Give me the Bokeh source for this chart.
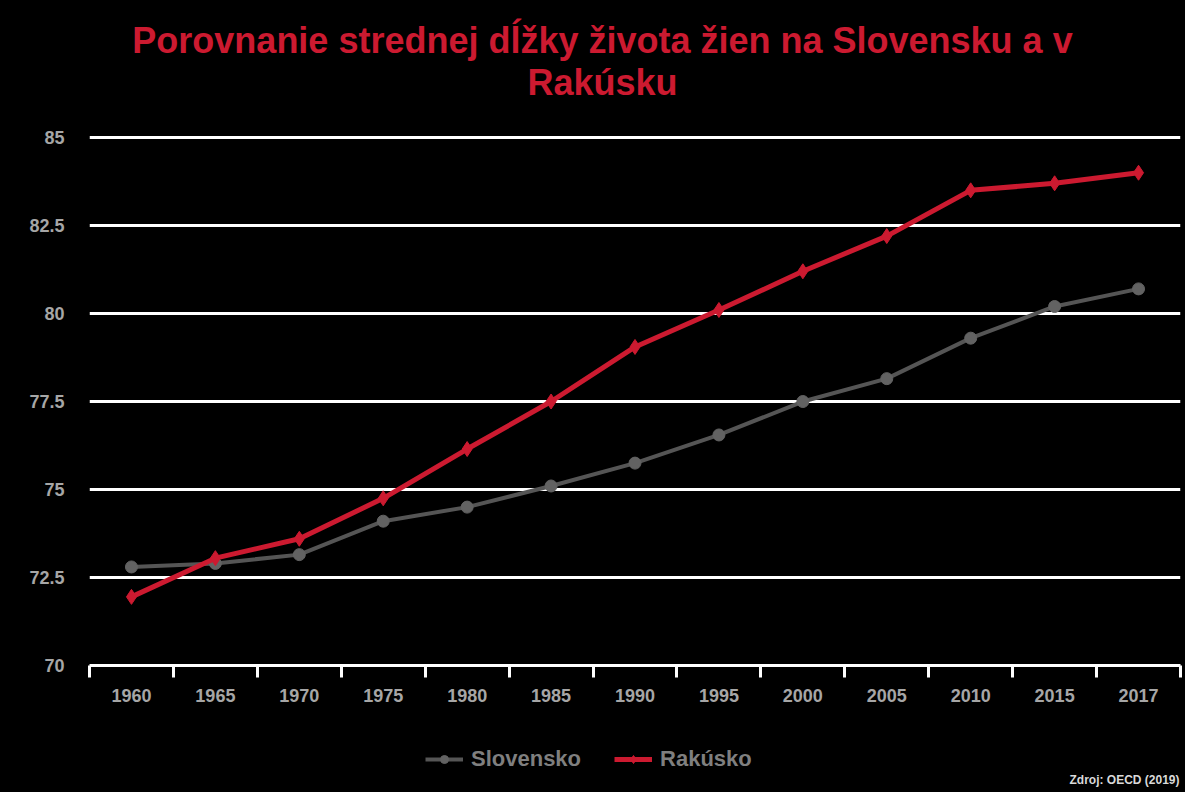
from bokeh.plotting import figure
from bokeh.models import (ColumnDataSource, FixedTicker, Legend, LegendItem, Range1d)
from bokeh.layouts import column
from bokeh.core.properties import value
from bokeh.embed import file_html
from bokeh.resources import INLINE

years = ["1960", "1965", "1970", "1975", "1980", "1985", "1990", "1995",
         "2000", "2005", "2010", "2015", "2017"]
slovensko = [72.8, 72.9, 73.15, 74.1, 74.5, 75.1, 75.75, 76.55, 77.5, 78.15, 79.3, 80.2, 80.7]
rakusko = [71.95, 73.05, 73.6, 74.75, 76.15, 77.5, 79.05, 80.1, 81.2, 82.2, 83.5, 83.7, 84.0]
y_ticks = [70, 72.5, 75, 77.5, 80, 82.5, 85]
y_labels = ["70", "72.5", "75", "77.5", "80", "82.5", "85"]
series_names = ["Slovensko", "Rakúsko"]

title_line1 = "Porovnanie strednej dĺžky života žien na Slovensku a v"
title_line2 = "Rakúsku"
source_note = "Zdroj: OECD (2019)"

FONT = "Liberation Sans"
GRAY = "#a6a6a6"
RED = "#cc1a30"
DARK = "#555555"
MARK = "#626262"
W = 1185
LEFT = 89
RIGHT = 5
BLACK = {"background-color": "black"}


def blank(height, xr, yr):
    f = figure(width=W, height=height, output_backend="svg", toolbar_location=None,
               x_range=xr, y_range=yr, x_axis_location=None, y_axis_location=None,
               min_border_left=LEFT, min_border_right=RIGHT, min_border_top=0,
               min_border_bottom=0, background_fill_color="black",
               border_fill_color="black", styles=BLACK)
    f.outline_line_color = None
    f.xgrid.visible = False
    f.ygrid.visible = False
    return f


# ---- header with the two-line title (pixel-like coordinates) ----
head = blank(128, Range1d(LEFT, W - RIGHT), Range1d(128, 0))
head.text(x=[602, 602], y=[40, 82], text=[title_line1, title_line2],
          text_align="center", text_baseline="middle", text_color=RED,
          text_font=value(FONT), text_font_size=value("36px"), text_font_style="bold")

# ---- main chart ----
xpos = [i + 0.5 for i in range(len(years))]
src = ColumnDataSource(dict(x=xpos, sk=slovensko, at=rakusko))

p = figure(width=W, height=584, output_backend="svg", toolbar_location=None,
           x_range=Range1d(0, len(years)), y_range=Range1d(70, 85.2),
           min_border_left=LEFT, min_border_right=RIGHT, min_border_top=2, min_border_bottom=47,
           background_fill_color="black", border_fill_color="black", styles=BLACK)
p.outline_line_color = None

p.xgrid.visible = False
p.ygrid.ticker = FixedTicker(ticks=y_ticks)
p.ygrid.grid_line_color = "white"
p.ygrid.grid_line_width = 3

p.yaxis.ticker = FixedTicker(ticks=y_ticks)
p.yaxis.major_label_overrides = {t: l for t, l in zip(y_ticks, y_labels)}
p.yaxis.axis_line_color = None
p.yaxis.major_tick_line_color = None
p.yaxis.minor_tick_line_color = None
p.yaxis.major_label_text_color = GRAY
p.yaxis.major_label_text_font = FONT
p.yaxis.major_label_text_font_size = "18px"
p.yaxis.major_label_text_font_style = "bold"
p.yaxis.major_label_standoff = 19

p.xaxis.ticker = FixedTicker(ticks=xpos, minor_ticks=list(range(len(years) + 1)))
p.xaxis.major_label_overrides = {x: y for x, y in zip(xpos, years)}
p.xaxis.axis_line_color = "white"
p.xaxis.axis_line_width = 3
p.xaxis.major_tick_line_color = None
p.xaxis.major_tick_out = 0
p.xaxis.major_tick_in = 0
p.xaxis.minor_tick_line_color = "white"
p.xaxis.minor_tick_line_width = 3
p.xaxis.minor_tick_out = 12
p.xaxis.minor_tick_in = 0
p.xaxis.major_label_text_color = GRAY
p.xaxis.major_label_text_font = FONT
p.xaxis.major_label_text_font_size = "18px"
p.xaxis.major_label_text_font_style = "bold"
p.xaxis.major_label_standoff = 11

p.line("x", "sk", source=src, line_color=DARK, line_width=4)
p.scatter("x", "sk", source=src, marker="circle", size=12, fill_color=MARK, line_color=MARK)
p.line("x", "at", source=src, line_color=RED, line_width=5)
p.scatter("x", "at", source=src, marker="diamond", size=15, fill_color=RED, line_color=RED)

# ---- footer: legend and source note ----
# x range shifted so that the legend's proxy renderers (same data) stay out of view
OFF = 1300
foot = blank(80, Range1d(LEFT - OFF, W - RIGHT - OFF), Range1d(80, 0))
fl1 = foot.line("x", "sk", source=src, line_color=DARK, line_width=4)
fm1 = foot.scatter("x", "sk", source=src, marker="circle", size=12, fill_color=MARK, line_color=MARK)
fl2 = foot.line("x", "at", source=src, line_color=RED, line_width=5)
fm2 = foot.scatter("x", "at", source=src, marker="diamond", size=15, fill_color=RED, line_color=RED)

legend = Legend(items=[LegendItem(label=series_names[0], renderers=[fl1, fm1]),
                       LegendItem(label=series_names[1], renderers=[fl2, fm2])],
                orientation="horizontal", location=(336, 20),
                background_fill_alpha=0, border_line_color=None,
                label_text_color="#7f7f7f", label_text_font=FONT,
                label_text_font_size="22px", label_text_font_style="bold",
                glyph_width=38, glyph_height=20, label_height=25, label_standoff=8,
                spacing=33, margin=0, padding=2)
foot.add_layout(legend, "center")

foot.text(x=[W - RIGHT - 1 - OFF], y=[67], text=[source_note], text_align="right",
          text_baseline="middle", text_color="#d9d9d9", text_font=value(FONT),
          text_font_size=value("12px"), text_font_style="bold")

layout = column(head, p, foot, spacing=0, styles=BLACK)

html = file_html(layout, INLINE)
html = html.replace("<body>", '<body style="background-color:#edf2f7;">', 1)
open("out.html", "w").write(html)
